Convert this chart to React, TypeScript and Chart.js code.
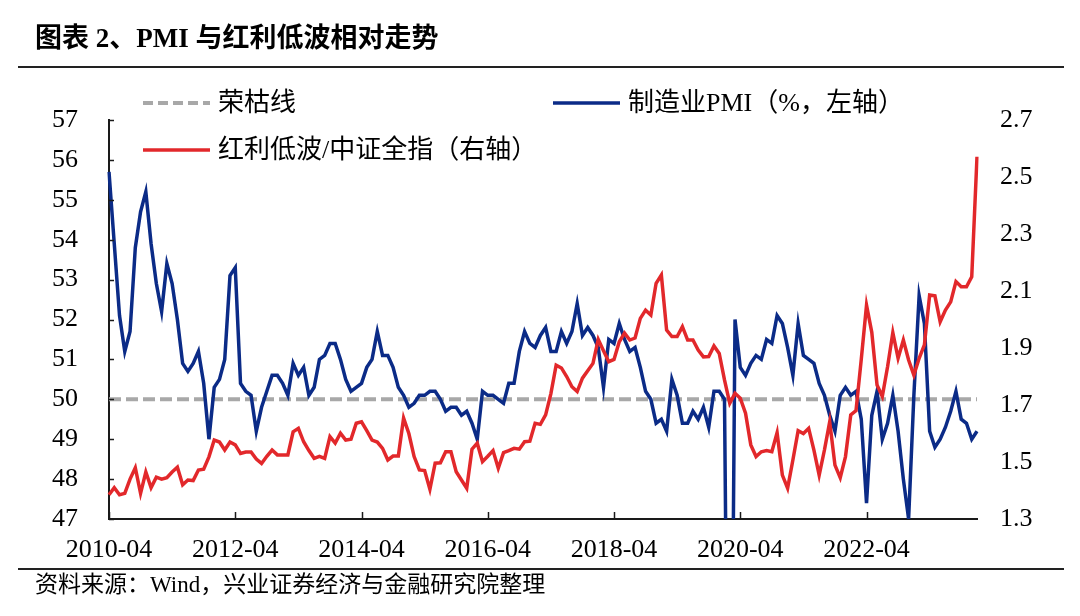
import React, { useEffect, useRef } from 'react';
import { Chart, registerables } from 'chart.js';

Chart.register(...registerables);

// ---------- data ----------
const firstYear = 2010;
const firstMonth = 4; // 2010-04
const monthCount = 166; // 2010-04 .. 2024-01

const categories: string[] = [];
for (let k = 0; k < monthCount; k++) {
  const m = firstMonth - 1 + k;
  categories.push(`${firstYear + Math.floor(m / 12)}-${String((m % 12) + 1).padStart(2, '0')}`);
}

const xTickLabels = ['2010-04', '2012-04', '2014-04', '2016-04', '2018-04', '2020-04', '2022-04'];
const leftTicks = [47, 48, 49, 50, 51, 52, 53, 54, 55, 56, 57];
const rightTicks = [1.3, 1.5, 1.7, 1.9, 2.1, 2.3, 2.5, 2.7];

const boomBustLevel = 50;

// 制造业PMI（%）
const pmi = [
  55.7, 53.9, 52.1, 51.2, 51.7, 53.8, 54.7, 55.2, 53.9,
  52.9, 52.2, 53.4, 52.9, 52.0, 50.9, 50.7, 50.9, 51.2, 50.4, 49.0, 50.3,
  50.5, 51.0, 53.1, 53.3, 50.4, 50.2, 50.1, 49.2, 49.8, 50.2, 50.6, 50.6,
  50.4, 50.1, 50.9, 50.6, 50.8, 50.1, 50.3, 51.0, 51.1, 51.4, 51.4, 51.0,
  50.5, 50.2, 50.3, 50.4, 50.8, 51.0, 51.7, 51.1, 51.1, 50.8, 50.3, 50.1,
  49.8, 49.9, 50.1, 50.1, 50.2, 50.2, 50.0, 49.7, 49.8, 49.8, 49.6, 49.7,
  49.4, 49.0, 50.2, 50.1, 50.1, 50.0, 49.9, 50.4, 50.4, 51.2, 51.7, 51.4,
  51.3, 51.6, 51.8, 51.2, 51.2, 51.7, 51.4, 51.7, 52.4, 51.6, 51.8, 51.6,
  51.3, 50.3, 51.5, 51.4, 51.9, 51.5, 51.2, 51.3, 50.8, 50.2, 50.0, 49.4,
  49.5, 49.2, 50.5, 50.1, 49.4, 49.4, 49.7, 49.5, 49.8, 49.3, 50.2, 50.2,
  50.0, 35.7, 52.0, 50.8, 50.6, 50.9, 51.1, 51.0, 51.5, 51.4, 52.1, 51.9,
  51.3, 50.6, 51.9, 51.1, 51.0, 50.9, 50.4, 50.1, 49.6, 49.2, 50.1, 50.3,
  50.1, 50.2, 49.5, 47.4, 49.6, 50.2, 49.0, 49.4, 50.1, 49.2, 48.0, 47.0,
  50.1, 52.6, 51.9, 49.2, 48.8, 49.0, 49.3, 49.7, 50.2, 49.5, 49.4, 49.0,
  49.2,
];

// 红利低波/中证全指（右轴）
const dividendRatio = [
  1.385, 1.41, 1.385, 1.39, 1.44, 1.48, 1.39, 1.465, 1.41,
  1.447, 1.44, 1.445, 1.465, 1.482, 1.42, 1.437, 1.435, 1.472, 1.475, 1.518, 1.577,
  1.57, 1.542, 1.57, 1.56, 1.53, 1.535, 1.535, 1.51, 1.495, 1.52, 1.542, 1.525,
  1.525, 1.525, 1.606, 1.618, 1.571, 1.54, 1.513, 1.52, 1.513, 1.589, 1.566, 1.601,
  1.577, 1.58, 1.636, 1.641, 1.61, 1.577, 1.57, 1.548, 1.507, 1.521, 1.521, 1.654,
  1.60, 1.519, 1.472, 1.47, 1.404, 1.496, 1.497, 1.536, 1.536, 1.466, 1.437, 1.408,
  1.545, 1.566, 1.501, 1.52, 1.54, 1.478, 1.533, 1.54, 1.548, 1.545, 1.571, 1.573,
  1.636, 1.632, 1.665, 1.74, 1.84, 1.83, 1.80, 1.764, 1.747, 1.794, 1.82, 1.846,
  1.93, 1.89, 1.852, 1.86, 1.922, 1.952, 1.928, 1.935, 2.004, 2.033, 2.016, 2.127,
  2.156, 1.963, 1.94, 1.94, 1.975, 1.928, 1.928, 1.893, 1.869, 1.87, 1.907, 1.881,
  1.788, 1.706, 1.741, 1.724, 1.671, 1.56, 1.519, 1.536, 1.54, 1.536, 1.603, 1.454,
  1.408, 1.507, 1.61, 1.60, 1.618, 1.542, 1.454, 1.542, 1.641, 1.489, 1.445, 1.519,
  1.665, 1.68, 1.86, 2.05, 1.955, 1.77, 1.73, 1.834, 1.954, 1.864, 1.928, 1.858,
  1.805, 1.864, 1.911, 2.086, 2.083, 1.992, 2.033, 2.062, 2.133, 2.115, 2.115, 2.15,
  2.571,
];

// ---------- styles ----------
const BLUE = '#0B2B87';
const RED = '#E2282B';
const GRAY = '#A8A8A8';
const AXIS = '#1a1a1a';
const FONT = '"Liberation Serif", "Times New Roman", "Noto Sans CJK SC", serif';
const CJK_FONT = '"Liberation Serif", "Noto Sans CJK SC", serif';

const framePlugin = {
  id: 'framePlugin',
  afterDatasetsDraw(chart: any) {
    const { ctx, chartArea, scales } = chart;
    const x = scales.x;
    const y = scales.y;
    ctx.save();
    ctx.strokeStyle = AXIS;
    ctx.lineWidth = 1.5;
    // inward ticks on left axis
    leftTicks.forEach((v) => {
      const py = Math.round(y.getPixelForValue(v)) + 0.5;
      ctx.beginPath();
      ctx.moveTo(chartArea.left, py);
      ctx.lineTo(chartArea.left + 5, py);
      ctx.stroke();
    });
    // inward ticks on bottom axis
    categories.forEach((c, i) => {
      if (xTickLabels.includes(c)) {
        const px = Math.round(x.getPixelForValue(i)) + 0.5;
        ctx.beginPath();
        ctx.moveTo(px, chartArea.bottom);
        ctx.lineTo(px, chartArea.bottom - 7);
        ctx.stroke();
      }
    });
    ctx.restore();
  },
  afterDraw(chart: any) {
    const { ctx } = chart;
    ctx.save();
    // title
    ctx.fillStyle = '#000';
    ctx.textBaseline = 'middle';
    ctx.textAlign = 'left';
    ctx.font = `bold 27px ${CJK_FONT}`;
    ctx.fillText('图表 2、PMI 与红利低波相对走势', 35, 40);
    // rules
    ctx.strokeStyle = '#222';
    ctx.lineWidth = 2;
    ctx.beginPath();
    ctx.moveTo(18, 67);
    ctx.lineTo(1064, 67);
    ctx.stroke();
    ctx.beginPath();
    ctx.moveTo(18, 569);
    ctx.lineTo(1064, 569);
    ctx.stroke();
    // footer
    ctx.font = `23px ${CJK_FONT}`;
    ctx.fillStyle = '#000';
    ctx.fillText('资料来源：Wind，兴业证券经济与金融研究院整理', 35, 586);

    // legend
    const items = [
      { text: '荣枯线', color: GRAY, dash: [10, 5], width: 4, x: 143, y: 103 },
      { text: '制造业PMI（%，左轴）', color: BLUE, dash: [], width: 3.5, x: 553, y: 103 },
      { text: '红利低波/中证全指（右轴）', color: RED, dash: [], width: 3.5, x: 143, y: 150 },
    ];
    items.forEach((it) => {
      ctx.strokeStyle = it.color;
      ctx.lineWidth = it.width;
      ctx.setLineDash(it.dash);
      ctx.beginPath();
      ctx.moveTo(it.x, it.y);
      ctx.lineTo(it.x + 67, it.y);
      ctx.stroke();
      ctx.setLineDash([]);
      ctx.font = `26px ${CJK_FONT}`;
      ctx.fillStyle = '#000';
      ctx.textBaseline = 'middle';
      ctx.fillText(it.text, it.x + 75, it.y + 1);
    });
    ctx.restore();
  },
};

export default function App() {
  const canvasRef = useRef<HTMLCanvasElement | null>(null);

  useEffect(() => {
    const canvas = canvasRef.current;
    if (!canvas) return;
    const chart = new Chart(canvas, {
      type: 'line',
      data: {
        labels: categories,
        datasets: [
          {
            label: '红利低波/中证全指（右轴）',
            data: dividendRatio,
            yAxisID: 'y1',
            borderColor: RED,
            borderWidth: 3.5,
            pointRadius: 0,
            tension: 0,
            order: 0,
          },
          {
            label: '制造业PMI（%，左轴）',
            data: pmi,
            yAxisID: 'y',
            borderColor: BLUE,
            borderWidth: 3.5,
            pointRadius: 0,
            tension: 0,
            order: 1,
          },
          {
            label: '荣枯线',
            data: categories.map(() => boomBustLevel),
            yAxisID: 'y',
            borderColor: GRAY,
            borderWidth: 4,
            borderDash: [12, 5],
            pointRadius: 0,
            order: 2,
          },
        ],
      },
      options: {
        responsive: false,
        animation: false,
        devicePixelRatio: 1,
        layout: { padding: { top: 120, bottom: 47, left: 0, right: 0 } },
        plugins: {
          legend: { display: false },
          title: { display: false },
          tooltip: { enabled: false },
        },
        scales: {
          x: {
            type: 'category',
            offset: false,
            grid: { display: false, drawTicks: false },
            border: { display: true, color: AXIS, width: 2 },
            ticks: {
              autoSkip: false,
              maxRotation: 0,
              minRotation: 0,
              padding: 16,
              color: '#000',
              font: { family: FONT, size: 26 },
              callback: (_v: any, i: number) => (xTickLabels.includes(categories[i]) ? categories[i] : null),
            },
            afterFit: (s: any) => {
              s.height = 50;
            },
          },
          y: {
            position: 'left',
            min: 47,
            max: 57,
            grid: { display: false, drawTicks: false },
            border: { display: true, color: AXIS, width: 2 },
            ticks: {
              stepSize: 1,
              padding: 31,
              color: '#000',
              font: { family: FONT, size: 26 },
            },
            afterBuildTicks: (s: any) => {
              s.ticks = leftTicks.map((v) => ({ value: v }));
            },
            afterFit: (s: any) => {
              s.width = 109;
            },
          },
          y1: {
            position: 'right',
            min: 1.3,
            max: 2.7,
            grid: { display: false, drawTicks: false },
            border: { display: false },
            ticks: {
              padding: 23,
              color: '#000',
              font: { family: FONT, size: 26 },
              callback: (v: any) => Number(v).toFixed(1),
            },
            afterBuildTicks: (s: any) => {
              s.ticks = rightTicks.map((v) => ({ value: v }));
            },
            afterFit: (s: any) => {
              s.width = 103;
            },
          },
        },
      },
      plugins: [framePlugin],
    });
    return () => chart.destroy();
  }, []);

  return (
    <div style={{ position: 'fixed', left: 0, top: 0, width: 1080, height: 616, background: '#fff' }}>
      <canvas ref={canvasRef} width={1080} height={616} style={{ width: 1080, height: 616, display: 'block' }} />
    </div>
  );
}
